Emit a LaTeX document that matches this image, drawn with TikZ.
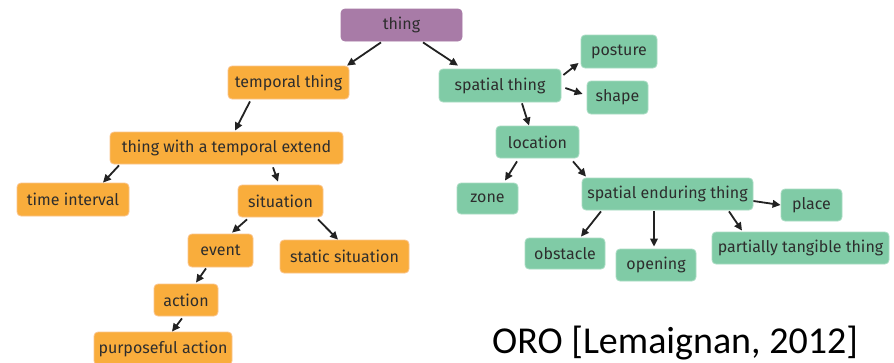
\documentclass[tikz,border=0pt]{standalone}
\usepackage{fontspec}
\setmainfont{Fira Sans}
\newfontfamily\captionfont{Carlito}
\usetikzlibrary{arrows.meta,calc}

\definecolor{rootfill}{RGB}{168,123,167}
\definecolor{timefill}{RGB}{249,173,60}
\definecolor{timeline}{RGB}{251,196,140}
\definecolor{spacefill}{RGB}{128,203,166}
\definecolor{spaceline}{RGB}{170,220,195}
\definecolor{labeltext}{RGB}{45,45,45}
\definecolor{edgecol}{RGB}{34,34,34}

\tikzset{
  box/.style={rectangle, rounded corners=4pt, inner sep=0pt, line width=0.8pt,
    font=\fontsize{16}{19}\selectfont, text=labeltext},
  rootbox/.style={box, fill=rootfill, draw=rootfill},
  timebox/.style={box, fill=timefill, draw=timeline},
  spacebox/.style={box, fill=spacefill, draw=spaceline},
  arr/.style={draw=edgecol, line width=1.8pt, -{Triangle[length=8pt,width=7.5pt]}},
}

\begin{document}
\begin{tikzpicture}[x=1pt, y=-1pt]
\useasboundingbox[fill=white] (0,0) rectangle (894,362);

% root
\node[rootbox, minimum width=121pt, minimum height=32pt] (thing) at (401.5,25) {thing};

% temporal branch
\node[timebox, minimum width=121pt, minimum height=33pt] (tt) at (288.5,82.5) {temporal thing};
\node[timebox, minimum width=233pt, minimum height=32pt] (ext) at (226.5,148) {thing with a temporal extend};
\node[timebox, minimum width=112pt, minimum height=33pt] (ti) at (73,199.5) {time interval};
\node[timebox, minimum width=85pt, minimum height=32pt] (sit) at (280.5,201) {situation};
\node[timebox, minimum width=65pt, minimum height=33pt] (ev) at (220.5,250.5) {event};
\node[timebox, minimum width=129pt, minimum height=33pt] (ss) at (344.5,256.5) {static situation};
\node[timebox, minimum width=64pt, minimum height=32pt] (act) at (186,300) {action};
\node[timebox, minimum width=138pt, minimum height=33pt] (pa) at (163,348.5) {purposeful action};

% spatial branch
\node[spacebox, minimum width=122pt, minimum height=33pt] (st) at (500,85.5) {spatial thing};
\node[spacebox, minimum width=76pt, minimum height=33pt] (post) at (619,51.5) {posture};
\node[spacebox, minimum width=61pt, minimum height=33pt] (shape) at (617.5,97.5) {shape};
\node[spacebox, minimum width=83pt, minimum height=32pt] (loc) at (537.5,142) {location};
\node[spacebox, minimum width=61pt, minimum height=31pt] (zone) at (487.5,198.5) {zone};
\node[spacebox, minimum width=171pt, minimum height=32pt] (set) at (667.5,194) {spatial enduring thing};
\node[spacebox, minimum width=61pt, minimum height=32pt] (place) at (811.5,205) {place};
\node[spacebox, minimum width=80pt, minimum height=31pt] (obs) at (565,253.5) {obstacle};
\node[spacebox, minimum width=80pt, minimum height=32pt] (open) at (656,265) {opening};
\node[spacebox, minimum width=177pt, minimum height=32pt] (ptt) at (800.5,248) {partially tangible thing};

% subclass links
\draw[arr] ($(thing.south)+(-20.5,1)$) -- ($(tt.north)+(58.5,0)$);
\draw[arr] ($(thing.south)+(21.5,1)$) -- ($(st.north)+(-42,-3)$);
\draw[arr] ($(tt.south)+(-38.5,2)$) -- ($(ext.north)+(8.5,-1)$);
\draw[arr] ($(ext.south)+(-107.5,1)$) -- ($(ti.north)+(30,0)$);
\draw[arr] ($(ext.south)+(46.5,3)$) -- ($(sit.north)+(-2.5,-3)$);
\draw[arr] ($(sit.south)+(-33.5,2)$) -- ($(ev.north)+(11.5,-1)$);
\draw[arr] ($(sit.south)+(37.5,2)$) -- ($(ss.north)+(-6.5,0)$);
\draw[arr] ($(ev.south)+(-14.5,1)$) -- ($(act.north)+(10,-1)$);
\draw[arr] ($(act.south)+(-4,2)$) -- ($(pa.north)+(9,0)$);

\draw[arr] ($(st.east)+(2,-10.5)$) -- ($(post.west)+(-2,11.5)$);
\draw[arr] ($(st.east)+(4,2.5)$) -- ($(shape.west)+(-4,-3.5)$);
\draw[arr] ($(st.south)+(22,1)$) -- ($(loc.north)+(-8.5,0)$);
\draw[arr] ($(loc.south)+(-20.5,3)$) -- ($(zone.north)+(17.5,-2)$);
\draw[arr] ($(loc.south)+(35.5,3)$) -- ($(set.north)+(-81.5,-1)$);
\draw[arr] ($(set.south)+(-66.5,1)$) -- ($(obs.north)+(16,-1)$);
\draw[arr] ($(set.south)+(-13.5,1)$) -- ($(open.north)+(-2,-2)$);
\draw[arr] ($(set.south)+(61.5,1)$) -- ($(ptt.north)+(-58.5,-1)$);
\draw[arr] ($(set.east)+(0,7)$) -- ($(place.west)+(0,0)$);

% citation
\node[anchor=base west, inner sep=0pt, font=\captionfont\fontsize{38}{42}\selectfont, text=black] (cite) at (492,353) {ORO [Lemaignan, 2012]};
\end{tikzpicture}
\end{document}
